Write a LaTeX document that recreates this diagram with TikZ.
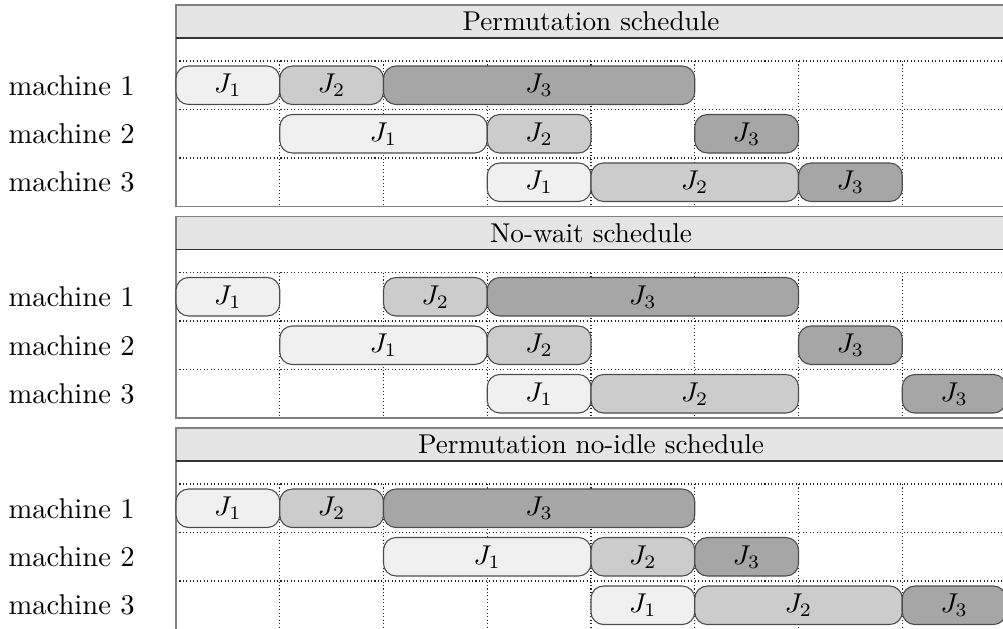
\documentclass[tikz,border=0pt]{standalone}
\usetikzlibrary{calc}
\begin{document}
\newcommand\jobbox[7]{%
  \pgfmathsetmacro\jx{176+(#4+#5)/2*103.75}%
  \pgfmathsetmacro\jy{#2+56+#3*48.5+24.25}%
  \pgfmathsetmacro\jw{(#5-#4)*103.75*0.3676}%
  \node[#6, minimum width=\jw pt] (#1) at (\jx,\jy) {#7};}
\newcommand\schedpanel[3]{%
  \foreach \i in {1,...,7} {
    \draw[gridline] (176+\i*103.75, #2+56) -- (176+\i*103.75, #2+201.5);
  }
  \foreach \r in {0,1,2} {
    \draw[gridline] (176, #2+56+\r*48.5) -- (1006, #2+56+\r*48.5);
    \pgfmathtruncatemacro\m{\r+1}
    \node[mlabel] (#1m\m) at (8, #2+56+\r*48.5+24.25) {machine \m};
  }
  \draw[frame] (176,#2) -- (176,#2+201.5) -- (1006,#2+201.5) -- (1006,#2);
  \node[header] (#1h) at (591,#2+16.5) {#3};
  \draw[hline] (176,#2+33) -- (1006,#2+33);
}
\begin{tikzpicture}[x=0.3676pt,y=-0.3676pt,
  gridline/.style={black!85, line width=0.38pt, dash pattern=on 0.38pt off 0.9pt},
  frame/.style={black!50, line width=0.55pt},
  hline/.style={black!80, line width=0.45pt},
  header/.style={draw=black!50, line width=0.45pt, fill=black!10, minimum width=305.1pt, minimum height=12.13pt, inner sep=0pt},
  mlabel/.style={anchor=west, inner sep=0pt, scale=1.05},
  jobbase/.style={draw=black!70, line width=0.4pt, rounded corners=4.6pt, minimum height=14.15pt, inner sep=0pt},
  jA/.style={jobbase, fill=black!6},
  jB/.style={jobbase, fill=black!20},
  jC/.style={jobbase, fill=black!35}]
\useasboundingbox (0,0) rectangle (1003,628);
\clip (0,0) rectangle (1003,628);
% Panel 1
\schedpanel{pa}{5}{Permutation schedule}
\jobbox{pa11}{5}{0}{0}{1}{jA}{$J_1$}
\jobbox{pa12}{5}{0}{1}{2}{jB}{$J_2$}
\jobbox{pa13}{5}{0}{2}{5}{jC}{$J_3$}
\jobbox{pa21}{5}{1}{1}{3}{jA}{$J_1$}
\jobbox{pa22}{5}{1}{3}{4}{jB}{$J_2$}
\jobbox{pa23}{5}{1}{5}{6}{jC}{$J_3$}
\jobbox{pa31}{5}{2}{3}{4}{jA}{$J_1$}
\jobbox{pa32}{5}{2}{4}{6}{jB}{$J_2$}
\jobbox{pa33}{5}{2}{6}{7}{jC}{$J_3$}
% Panel 2
\schedpanel{pb}{216.5}{No-wait schedule}
\jobbox{pb11}{216.5}{0}{0}{1}{jA}{$J_1$}
\jobbox{pb12}{216.5}{0}{2}{3}{jB}{$J_2$}
\jobbox{pb13}{216.5}{0}{3}{6}{jC}{$J_3$}
\jobbox{pb21}{216.5}{1}{1}{3}{jA}{$J_1$}
\jobbox{pb22}{216.5}{1}{3}{4}{jB}{$J_2$}
\jobbox{pb23}{216.5}{1}{6}{7}{jC}{$J_3$}
\jobbox{pb31}{216.5}{2}{3}{4}{jA}{$J_1$}
\jobbox{pb32}{216.5}{2}{4}{6}{jB}{$J_2$}
\jobbox{pb33}{216.5}{2}{7}{8}{jC}{$J_3$}
% Panel 3
\schedpanel{pc}{428}{Permutation no-idle schedule}
\jobbox{pc11}{428}{0}{0}{1}{jA}{$J_1$}
\jobbox{pc12}{428}{0}{1}{2}{jB}{$J_2$}
\jobbox{pc13}{428}{0}{2}{5}{jC}{$J_3$}
\jobbox{pc21}{428}{1}{2}{4}{jA}{$J_1$}
\jobbox{pc22}{428}{1}{4}{5}{jB}{$J_2$}
\jobbox{pc23}{428}{1}{5}{6}{jC}{$J_3$}
\jobbox{pc31}{428}{2}{4}{5}{jA}{$J_1$}
\jobbox{pc32}{428}{2}{5}{7}{jB}{$J_2$}
\jobbox{pc33}{428}{2}{7}{8}{jC}{$J_3$}
\end{tikzpicture}
\end{document}
